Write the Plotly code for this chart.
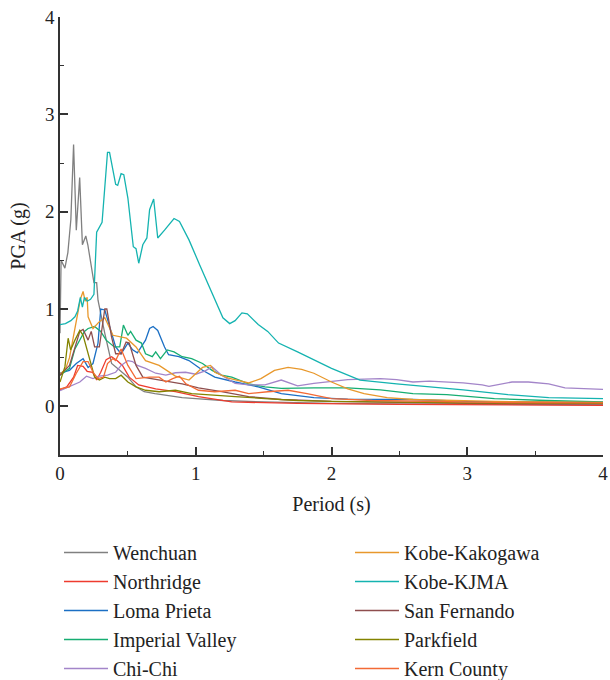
import plotly.graph_objects as go

# Response spectra of the selected ground motions: period (s) vs PGA (g)
wenchuan_t = [0, 0.008, 0.036, 0.058, 0.08, 0.10, 0.12, 0.145, 0.165, 0.19, 0.205, 0.23, 0.25, 0.27, 0.28,
              0.33, 0.38, 0.44, 0.5, 0.56, 0.62, 0.7, 0.8, 0.9, 1.0, 1.2, 1.5, 2.0, 2.5, 3.0, 3.5, 4.0]
wenchuan_a = [0.75, 1.50, 1.42, 1.58, 1.92, 2.69, 1.81, 2.35, 1.66, 1.75, 1.66, 1.43, 1.27, 1.27, 1.09,
              0.75, 0.44, 0.37, 0.30, 0.20, 0.15, 0.13, 0.11, 0.09, 0.08, 0.06, 0.045, 0.03, 0.025, 0.02, 0.02, 0.015]

northridge_t = [0, 0.05, 0.1, 0.13, 0.17, 0.2, 0.24, 0.27, 0.3, 0.34, 0.38, 0.42, 0.46, 0.51, 0.58, 0.705,
                0.85, 1.02, 1.265, 1.75, 2.5, 3.0, 4.0]
northridge_a = [0.17, 0.20, 0.30, 0.42, 0.41, 0.36, 0.35, 0.27, 0.35, 0.48, 0.51, 0.47, 0.42, 0.30, 0.22, 0.18,
                0.15, 0.10, 0.045, 0.03, 0.02, 0.015, 0.01]

loma_t = [0, 0.07, 0.12, 0.17, 0.207, 0.243, 0.28, 0.30, 0.33, 0.365, 0.41, 0.45, 0.50, 0.535, 0.57, 0.63,
          0.66, 0.686, 0.72, 0.77, 0.80, 0.876, 0.95, 1.05, 1.14, 1.29, 1.46, 1.63, 1.87, 2.12, 2.6, 3.0, 3.5, 4.0]
loma_a = [0.34, 0.37, 0.44, 0.49, 0.40, 0.44, 0.65, 1.00, 0.99, 0.82, 0.61, 0.54, 0.65, 0.58, 0.55, 0.68,
          0.80, 0.82, 0.78, 0.61, 0.53, 0.51, 0.47, 0.37, 0.30, 0.25, 0.20, 0.13, 0.09, 0.075, 0.07, 0.05, 0.045, 0.04]

imperial_t = [0, 0.07, 0.11, 0.146, 0.18, 0.207, 0.255, 0.30, 0.34, 0.40, 0.44, 0.467, 0.50, 0.52, 0.56, 0.60,
              0.63, 0.68, 0.705, 0.74, 0.79, 0.84, 0.90, 0.97, 1.05, 1.12, 1.19, 1.265, 1.39, 1.51, 1.63, 1.87,
              2.12, 2.36, 2.6, 2.85, 3.2, 3.58, 4.0]
imperial_a = [0.32, 0.39, 0.59, 0.68, 0.77, 0.80, 0.82, 0.77, 0.68, 0.61, 0.61, 0.835, 0.73, 0.77, 0.68, 0.65,
              0.54, 0.51, 0.56, 0.49, 0.58, 0.56, 0.51, 0.49, 0.44, 0.37, 0.32, 0.30, 0.23, 0.20, 0.185, 0.19,
              0.19, 0.17, 0.13, 0.12, 0.08, 0.06, 0.045]

chichi_t = [0, 0.07, 0.146, 0.195, 0.243, 0.29, 0.35, 0.41, 0.45, 0.5, 0.535, 0.57, 0.63, 0.705, 0.78, 0.85,
            0.925, 1.0, 1.07, 1.12, 1.19, 1.29, 1.39, 1.51, 1.63, 1.75, 1.87, 2.12, 2.36, 2.48, 2.6, 2.72,
            2.97, 3.11, 3.16, 3.33, 3.45, 3.6, 3.72, 4.0]
chichi_a = [0.16, 0.20, 0.25, 0.31, 0.285, 0.31, 0.32, 0.35, 0.42, 0.47, 0.46, 0.42, 0.39, 0.34, 0.32, 0.345,
            0.35, 0.33, 0.365, 0.405, 0.32, 0.235, 0.22, 0.22, 0.27, 0.21, 0.235, 0.275, 0.285, 0.275, 0.25, 0.26,
            0.24, 0.22, 0.205, 0.25, 0.25, 0.23, 0.19, 0.175]

kakogawa_t = [0, 0.04, 0.07, 0.1, 0.13, 0.15, 0.17, 0.185, 0.2, 0.207, 0.243, 0.29, 0.33, 0.39, 0.49, 0.56,
              0.63, 0.73, 0.85, 0.95, 1.05, 1.11, 1.14, 1.24, 1.39, 1.48, 1.58, 1.68, 1.78, 1.87, 2.0, 2.12,
              2.24, 2.41, 2.6, 2.85, 3.2, 3.6, 4.0]
kakogawa_a = [0.33, 0.38, 0.50, 0.72, 0.95, 1.10, 1.18, 1.08, 1.12, 0.92, 0.80, 0.87, 0.91, 0.73, 0.70, 0.61,
              0.47, 0.42, 0.31, 0.27, 0.40, 0.42, 0.35, 0.29, 0.24, 0.285, 0.37, 0.40, 0.38, 0.34, 0.25, 0.18,
              0.13, 0.09, 0.07, 0.06, 0.05, 0.045, 0.04]

kjma_t = [0, 0.04, 0.08, 0.11, 0.13, 0.15, 0.165, 0.18, 0.2, 0.225, 0.25, 0.27, 0.31, 0.35, 0.365, 0.41,
          0.425, 0.45, 0.47, 0.50, 0.54, 0.56, 0.58, 0.61, 0.64, 0.66, 0.69, 0.72, 0.77, 0.84, 0.88, 0.95,
          1.03, 1.11, 1.2, 1.25, 1.29, 1.34, 1.38, 1.46, 1.53, 1.61, 1.75, 2.0, 2.21, 2.48, 2.97, 3.3, 3.6, 4.0]
kjma_a = [0.84, 0.85, 0.88, 0.92, 0.98, 1.12, 1.02, 1.12, 1.08, 1.10, 1.15, 1.79, 1.89, 2.61, 2.61, 2.28,
          2.27, 2.39, 2.38, 2.14, 1.64, 1.62, 1.47, 1.66, 1.73, 2.02, 2.13, 1.73, 1.81, 1.93, 1.90, 1.71,
          1.45, 1.20, 0.91, 0.85, 0.88, 0.96, 0.95, 0.84, 0.77, 0.65, 0.56, 0.39, 0.27, 0.23, 0.17, 0.12, 0.09, 0.08]

fernando_t = [0, 0.07, 0.146, 0.17, 0.207, 0.23, 0.255, 0.29, 0.33, 0.345, 0.38, 0.41, 0.45, 0.487, 0.51,
              0.56, 0.61, 0.68, 0.78, 0.90, 1.02, 1.19, 1.39, 1.63, 2.0, 2.5, 3.0, 4.0]
fernando_a = [0.32, 0.42, 0.77, 0.79, 0.68, 0.77, 0.61, 0.61, 1.00, 1.00, 0.71, 0.54, 0.54, 0.66, 0.65,
              0.42, 0.30, 0.285, 0.26, 0.23, 0.19, 0.15, 0.10, 0.07, 0.05, 0.04, 0.03, 0.025]

parkfield_t = [0, 0.036, 0.06, 0.078, 0.11, 0.146, 0.17, 0.195, 0.22, 0.255, 0.29, 0.33, 0.365, 0.41, 0.45,
               0.50, 0.56, 0.63, 0.73, 0.85, 0.97, 1.14, 1.29, 1.51, 1.75, 2.0, 2.5, 3.0, 4.0]
parkfield_a = [0.25, 0.405, 0.70, 0.58, 0.68, 0.78, 0.73, 0.61, 0.47, 0.30, 0.27, 0.30, 0.285, 0.285, 0.32,
               0.25, 0.20, 0.165, 0.15, 0.165, 0.13, 0.11, 0.10, 0.08, 0.06, 0.05, 0.04, 0.035, 0.03]

kern_t = [0, 0.07, 0.12, 0.17, 0.207, 0.243, 0.28, 0.32, 0.35, 0.39, 0.41, 0.45, 0.50, 0.56, 0.66, 0.73,
          0.78, 0.83, 0.88, 0.925, 1.02, 1.14, 1.29, 1.39, 1.53, 1.68, 1.82, 2.0, 2.3, 2.7, 3.2, 4.0]
kern_a = [0.18, 0.20, 0.34, 0.46, 0.46, 0.35, 0.285, 0.30, 0.44, 0.49, 0.47, 0.59, 0.42, 0.285, 0.30, 0.30,
          0.25, 0.285, 0.31, 0.235, 0.165, 0.15, 0.165, 0.13, 0.15, 0.165, 0.13, 0.08, 0.06, 0.05, 0.04, 0.035]

names = ["Wenchuan", "Northridge", "Loma Prieta", "Imperial Valley", "Chi-Chi",
         "Kobe-Kakogawa", "Kobe-KJMA", "San Fernando", "Parkfield", "Kern County"]
periods = [wenchuan_t, northridge_t, loma_t, imperial_t, chichi_t,
           kakogawa_t, kjma_t, fernando_t, parkfield_t, kern_t]
accels = [wenchuan_a, northridge_a, loma_a, imperial_a, chichi_a,
          kakogawa_a, kjma_a, fernando_a, parkfield_a, kern_a]
colors = ["#808080", "#ee3b2e", "#1b6fc4", "#16ad72", "#a385c9",
          "#e8982c", "#14b3b0", "#8e4e4e", "#838300", "#f36a35"]

FONT = "Liberation Serif"
TEXT_COLOR = "#222222"

fig = go.Figure()
for i, (name, t, a, c) in enumerate(zip(names, periods, accels, colors)):
    fig.add_trace(go.Scatter(
        x=t, y=a, mode="lines", name=name,
        line=dict(color=c, width=1.3),
        legend="legend" if i < 5 else "legend2",
    ))

axis_common = dict(
    showline=True, linecolor="#333333", linewidth=1.5,
    ticks="inside", ticklen=8, tickwidth=1.5, tickcolor="#333333",
    showgrid=False, zeroline=False,
    tickfont=dict(family=FONT, size=19, color=TEXT_COLOR),
    ticklabeloverflow="allow",
    minor=dict(ticks="inside", ticklen=4, tickwidth=1.2, tickcolor="#333333", dtick=0.5, showgrid=False),
)

fig.update_xaxes(range=[0, 4], tickvals=[0, 1, 2, 3, 4], **axis_common,
                 title=dict(text="Period (s)", font=dict(family=FONT, size=20, color=TEXT_COLOR), standoff=14))
fig.update_yaxes(range=[-0.5, 4], tickvals=[0, 1, 2, 3, 4], **axis_common)

# y-axis title, rotated, left of the tick labels
fig.add_annotation(
    text="PGA (g)", textangle=-90, showarrow=False,
    xref="paper", yref="paper", x=-0.078, y=0.5, xanchor="center", yanchor="middle",
    font=dict(family=FONT, size=20, color=TEXT_COLOR),
)

legend_common = dict(
    font=dict(family=FONT, size=20, color=TEXT_COLOR),
    bgcolor="rgba(0,0,0,0)", borderwidth=0,
    xref="container", yref="container", yanchor="top", xanchor="left",
    itemwidth=44, traceorder="normal",
)

fig.update_layout(
    width=610, height=680,
    margin=dict(l=60, r=7, t=17, b=225, autoexpand=False),
    paper_bgcolor="white", plot_bgcolor="white",
    showlegend=True,
    legend=dict(x=59 / 610, y=1 - 533 / 680, **legend_common),
    legend2=dict(x=350 / 610, y=1 - 533 / 680, **legend_common),
)

fig.write_html("out.html")
